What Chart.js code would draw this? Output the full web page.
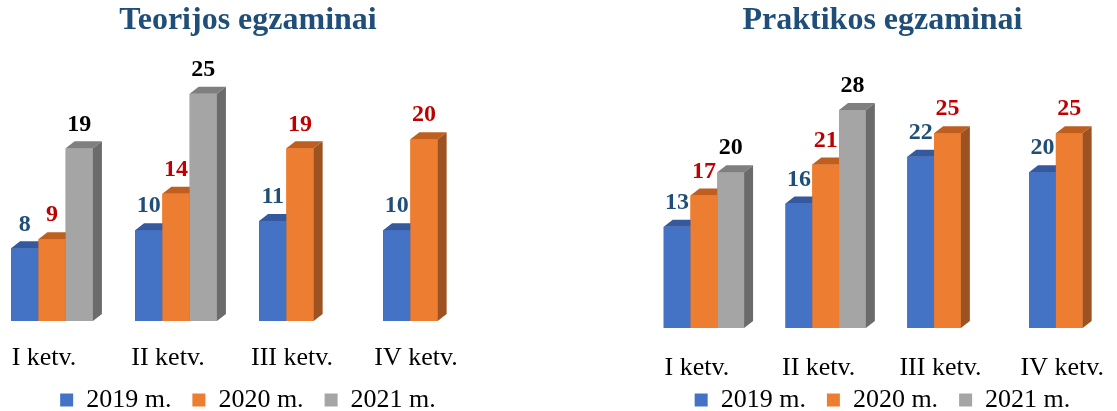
<!DOCTYPE html>
<html>
<head>
<meta charset="utf-8">
<script src="https://cdn.jsdelivr.net/npm/chart.js@4"></script>
<style>
  html, body { margin:0; padding:0; background:#fff; width:1117px; height:411px; overflow:hidden; position:relative; }
  .box { position:absolute; top:0; height:411px; }
  #b1 { left:-10px; width:516px; }
  #b2 { left:629px; width:507px; }
</style>
</head>
<body>
<div class="box" id="b1"><canvas id="c1" width="516" height="411"></canvas></div>
<div class="box" id="b2"><canvas id="c2" width="507" height="411"></canvas></div>
<script>
// ---- data ----
const categories = ["I ketv.", "II ketv.", "III ketv.", "IV ketv."];
const seriesNames = ["2019 m.", "2020 m.", "2021 m."];
const teorija2019 = [8, 10, 11, 10];
const teorija2020 = [9, 14, 19, 20];
const teorija2021 = [19, 25, null, null];
const praktika2019 = [13, 16, 22, 20];
const praktika2020 = [17, 21, 25, 25];
const praktika2021 = [20, 28, null, null];

// ---- styles ----
const frontColors = ["#4472C4", "#ED7D31", "#A5A5A5"];
const topColors   = ["#34599E", "#BF5F1F", "#7F7F7F"];
const sideColors  = ["#2F5290", "#9C5221", "#6B6B6B"];
const labelColors = ["#1F4E79", "#C00000", "#000000"];
const SERIF = "'Liberation Serif', 'Times New Roman', serif";
const DX = 9, DY = 7;

const bar3d = {
  id: 'bar3d',
  afterDatasetsDraw(chart) {
    const ctx = chart.ctx;
    ctx.save();
    chart.data.datasets.forEach((ds, i) => {
      const meta = chart.getDatasetMeta(i);
      meta.data.forEach((el, j) => {
        if (ds.data[j] == null) return;
        const w = el.width, l = el.x - w / 2, r = el.x + w / 2, t = el.y, b = el.base;
        ctx.fillStyle = frontColors[i];
        ctx.fillRect(l, t, w, b - t);
        ctx.fillStyle = topColors[i];
        ctx.beginPath();
        ctx.moveTo(l, t); ctx.lineTo(l + DX, t - DY); ctx.lineTo(r + DX, t - DY); ctx.lineTo(r, t);
        ctx.closePath(); ctx.fill();
        ctx.fillStyle = sideColors[i];
        ctx.beginPath();
        ctx.moveTo(r, t); ctx.lineTo(r + DX, t - DY); ctx.lineTo(r + DX, b - DY); ctx.lineTo(r, b);
        ctx.closePath(); ctx.fill();
      });
    });
    // value labels
    ctx.font = "bold 24px " + SERIF;
    ctx.textAlign = 'center';
    ctx.textBaseline = 'middle';
    chart.data.datasets.forEach((ds, i) => {
      const meta = chart.getDatasetMeta(i);
      meta.data.forEach((el, j) => {
        const v = ds.data[j];
        if (v == null) return;
        ctx.fillStyle = labelColors[i];
        ctx.fillText(String(v), el.x, el.y - 24);
      });
    });
    ctx.restore();
  }
};

function makeChart(id, title, d19, d20, d21, yMax, titlePad, tickPad, axisH, labelOffset, yPos, yWidth) {
  const arrs = [d19, d20, d21];
  return new Chart(document.getElementById(id), {
    type: 'bar',
    data: {
      labels: categories,
      datasets: seriesNames.map((n, i) => ({
        label: n,
        data: arrs[i],
        backgroundColor: frontColors[i],
        borderWidth: 0,
        categoryPercentage: 0.66,
        barPercentage: 1.0
      }))
    },
    options: {
      responsive: false,
      animation: false,
      layout: { padding: 0 },
      plugins: {
        title: {
          display: true, text: title, color: '#1F4E79',
          font: { family: SERIF, size: 32, weight: 'bold' },
          padding: titlePad
        },
        legend: {
          position: 'bottom',
          maxHeight: 45,
          labels: {
            boxWidth: 13, boxHeight: 13, padding: 21,
            color: '#000', font: { family: SERIF, size: 26 }
          }
        },
        tooltip: { enabled: false }
      },
      scales: {
        x: {
          grid: { display: false, drawTicks: false },
          border: { display: false },
          ticks: { color: '#000', font: { family: SERIF, size: 26 }, padding: tickPad, labelOffset: labelOffset, maxRotation: 0, autoSkip: false },
          afterFit(s) { s.height = axisH; s._computeLabelArea = () => undefined; }
        },
        y: {
          position: yPos, min: 0, max: yMax,
          grid: { display: false }, border: { display: false },
          ticks: { display: false },
          afterFit(s) { s.width = yWidth; }
        }
      }
    },
    plugins: [bar3d]
  });
}

makeChart('c1', 'Teorijos egzaminai', teorija2019, teorija2020, teorija2021, 30, {top: 2, bottom: 8}, 22, 45, -8, 'right', 20);
makeChart('c2', 'Praktikos egzaminai', praktika2019, praktika2020, praktika2021, 35, {top: 2, bottom: 15}, 25, 38, -7, 'left', 14);
</script>
</body>
</html>
